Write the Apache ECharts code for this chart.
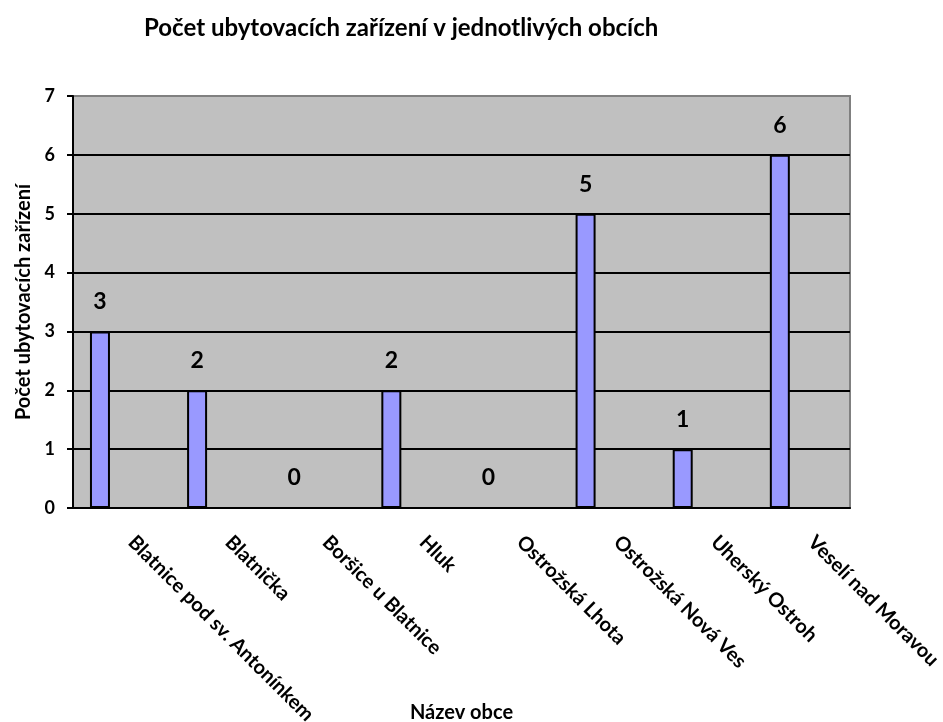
<!DOCTYPE html>
<html>
<head>
<meta charset="utf-8">
<script src="https://cdn.jsdelivr.net/npm/echarts@6/dist/echarts.min.js"></script>
<style>
  html, body { margin: 0; padding: 0; background: #fff; }
  #chart { width: 943px; height: 722px; }
</style>
</head>
<body>
<div id="chart"></div>
<script>
// názvy obcí a počty zařízení
var obce = ['Blatnice pod sv. Antonínkem', 'Blatnička', 'Boršice u Blatnice', 'Hluk',
    'Ostrožská Lhota', 'Ostrožská Nová Ves', 'Uherský Ostroh', 'Veselí nad Moravou'];
var pocty = [3, 2, 0, 2, 0, 5, 1, 6];
var prazdna = [null, null, null, null, null, null, null, null];   // druhá (prázdná) řada jako v Excelu
var osaY = [0, 1, 2, 3, 4, 5, 6, 7];

var font = 'Lato, "Open Sans", sans-serif';

var chart = echarts.init(document.getElementById('chart'));

//barvy vodorovných čar, horní je šedá jako okraj
var barvyCar = osaY.map(function (v, i) { return i === osaY.length - 1 ? '#808080' : '#000'; });

var option = {
    animation: false,
    backgroundColor: '#fff',
    title: {
        text: 'Počet ubytovacích zařízení v jednotlivých obcích',
        left: 139,
        top: 11,
        textStyle: { fontFamily: font, fontWeight: 'bold', fontSize: 24, color: '#000' }
    },
    grid: {
        left: 73, right: 93, top: 96, bottom: 214,
        outerBoundsMode: 'none',
        containLabel: false,
        show: true,
        backgroundColor: '#c0c0c0',
        borderColor: '#808080',
        borderWidth: 2
    },
    xAxis: {
        type: 'category',
        data: obce,
        name: 'Název obce',
        nameLocation: 'middle',
        nameGap: 195,
        nameMoveOverlap: false,
        nameTextStyle: { fontFamily: font, fontWeight: 'bold', fontSize: 20, color: '#000' },
        axisLine: { lineStyle: { color: '#000', width: 2 } },
        axisTick: { length: 6, lineStyle: { color: '#000', width: 2 } },
        axisLabel: {
            rotate: -45,
            margin: 21,
            padding: [0, 0, 0, 14],
            interval: 0,
            fontFamily: font, fontWeight: 'bold', fontSize: 20, color: '#000'
        }
    },
    yAxis: {
        type: 'value',
        min: osaY[0],
        max: osaY[osaY.length - 1],
        interval: 1,
        name: 'Počet ubytovacích zařízení',
        nameLocation: 'middle',
        nameGap: 39,
        nameTextStyle: { fontFamily: font, fontWeight: 'bold', fontSize: 20, color: '#000' },
        axisLine: { show: true, lineStyle: { color: '#000', width: 2 } },
        axisTick: { show: true, length: 6, lineStyle: { color: '#000', width: 2 } },
        axisLabel: { margin: 18, fontFamily: font, fontWeight: 'bold', fontSize: 18, color: '#000' },
        splitLine: { show: true, lineStyle: { color: barvyCar, width: 2 } }
    },
    series: [
        {
            type: 'bar',
            data: pocty,
            barWidth: 20,
            barGap: '116%',
            itemStyle: { color: '#9999ff', borderColor: '#000', borderWidth: 2 },
            label: {
                show: true,
                position: 'top',
                distance: 18,
                fontFamily: font, fontWeight: 'bold', fontSize: 23, color: '#000'
            }
        },
        {
            type: 'bar',
            data: prazdna,
            barWidth: 20,
            itemStyle: { color: '#993366' }
        }
    ]
};

chart.setOption(option);
</script>
</body>
</html>
